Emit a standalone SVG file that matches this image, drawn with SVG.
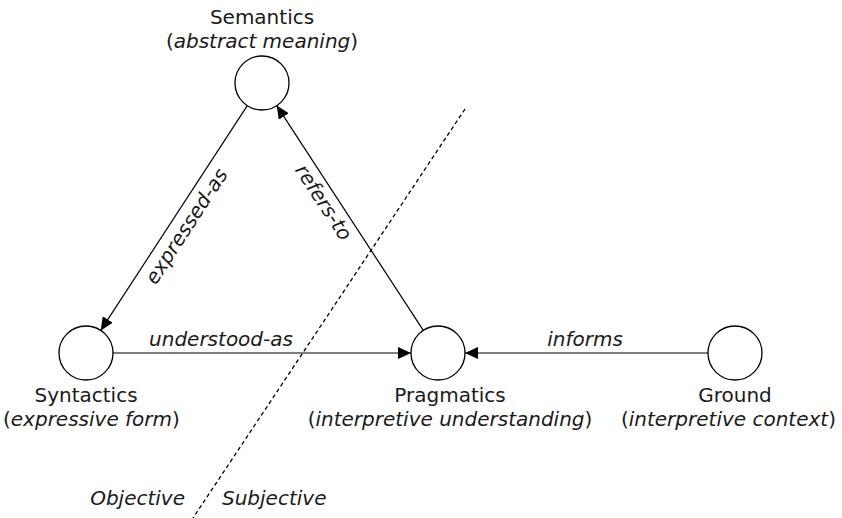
<svg xmlns="http://www.w3.org/2000/svg" width="842" height="518" viewBox="0 0 842 518">
<defs>
<marker id="arr" markerWidth="13" markerHeight="12" refX="13" refY="6" orient="auto" markerUnits="userSpaceOnUse">
<path d="M0,0 L13,6 L0,12 z" fill="#000"/>
</marker>
<style>
.node{fill:#fff;stroke:#000;stroke-width:1.3}
.edge{fill:none;stroke:#000;stroke-width:1.2;marker-end:url(#arr)}
.div{fill:none;stroke:#000;stroke-width:1.3;stroke-dasharray:4 3}
text{font-family:"DejaVu Sans","Liberation Sans",sans-serif;font-size:20px;fill:#1a1a1a}
.it{font-style:italic}
.c{text-anchor:middle}
</style>
</defs>
<rect width="842" height="518" fill="#fff"/>
<g id="divider">
<line class="div" x1="465" y1="109" x2="193" y2="518"/>
<text class="it" x="185" y="505" text-anchor="end">Objective</text>
<text class="it" x="222" y="505">Subjective</text>
</g>
<g id="connectors">
<line class="edge" x1="247.3" y1="105.6" x2="100.7" y2="330.4"/>
<line class="edge" x1="423.3" y1="330.4" x2="276.7" y2="105.6"/>
<line class="edge" x1="113" y1="353" x2="411" y2="353"/>
<line class="edge" x1="708" y1="353" x2="465" y2="353"/>
<text class="it c" transform="translate(192,230) rotate(-56.9)">expressed-as</text>
<text class="it c" transform="translate(318,206) rotate(56.9)">refers-to</text>
<text class="it c" x="221" y="346">understood-as</text>
<text class="it c" x="585" y="346">informs</text>
</g>
<g id="semantics">
<circle class="node" cx="262" cy="83" r="27"/>
<text class="c" x="262" y="23.5">Semantics</text>
<text class="c" x="262" y="48">(<tspan class="it">abstract meaning</tspan>)</text>
</g>
<g id="syntactics">
<circle class="node" cx="86" cy="353" r="27"/>
<text class="c" x="86" y="402">Syntactics</text>
<text x="3" y="426">(<tspan class="it">expressive form</tspan>)</text>
</g>
<g id="pragmatics">
<circle class="node" cx="438" cy="353" r="27"/>
<text class="c" x="450" y="402">Pragmatics</text>
<text class="c" x="450" y="426">(<tspan class="it">interpretive understanding</tspan>)</text>
</g>
<g id="ground">
<circle class="node" cx="735" cy="353" r="27"/>
<text class="c" x="735" y="402">Ground</text>
<text x="836" y="426" text-anchor="end">(<tspan class="it">interpretive context</tspan>)</text>
</g>
</svg>
